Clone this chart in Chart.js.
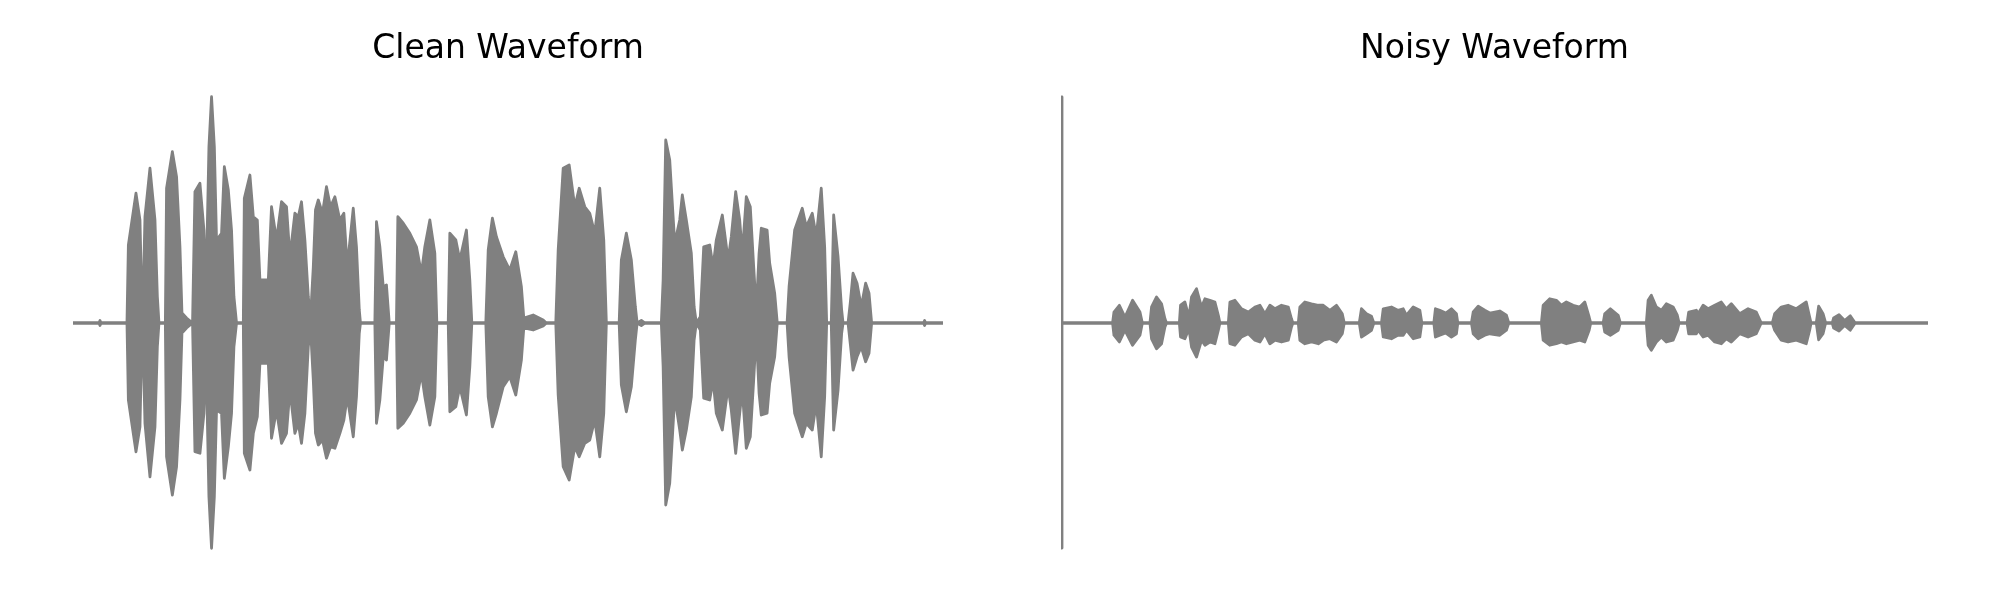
<!DOCTYPE html>
<html>
<head>
<meta charset="utf-8">
<script src="https://cdn.jsdelivr.net/npm/chart.js@4/dist/chart.umd.min.js"></script>
<style>
  body { margin: 0; background: #fff; }
  .panel { position: absolute; top: 0; width: 1000px; height: 600px; }
</style>
</head>
<body>
<div class="panel" style="left:0"><canvas id="clean" width="1000" height="600"></canvas></div>
<div class="panel" style="left:1000px"><canvas id="noisy" width="1000" height="600"></canvas></div>
<script>
// clean waveform envelope (time in s, upper / lower amplitude)
const cleanTime = [0, 0.13, 0.135, 0.14, 0.27, 0.277, 0.315, 0.335, 0.343, 0.352, 0.36, 0.385, 0.41, 0.422, 0.43, 0.462, 0.468, 0.497, 0.518, 0.535, 0.545, 0.568, 0.598, 0.61, 0.635, 0.655, 0.665, 0.68, 0.693, 0.707, 0.718, 0.743, 0.757, 0.777, 0.793, 0.805, 0.818, 0.852, 0.857, 0.885, 0.902, 0.922, 0.935, 0.977, 0.993, 1.018, 1.043, 1.068, 1.085, 1.11, 1.127, 1.143, 1.16, 1.177, 1.188, 1.202, 1.213, 1.227, 1.248, 1.268, 1.288, 1.31, 1.335, 1.355, 1.372, 1.402, 1.418, 1.432, 1.438, 1.51, 1.518, 1.535, 1.552, 1.568, 1.582, 1.618, 1.625, 1.652, 1.685, 1.718, 1.743, 1.76, 1.785, 1.81, 1.82, 1.877, 1.885, 1.915, 1.935, 1.968, 1.985, 1.995, 2.065, 2.077, 2.098, 2.118, 2.152, 2.185, 2.215, 2.243, 2.255, 2.302, 2.352, 2.368, 2.415, 2.427, 2.452, 2.482, 2.51, 2.532, 2.56, 2.585, 2.61, 2.635, 2.655, 2.668, 2.732, 2.743, 2.768, 2.793, 2.813, 2.822, 2.843, 2.86, 2.943, 2.952, 2.965, 2.985, 3.01, 3.035, 3.048, 3.068, 3.093, 3.107, 3.118, 3.138, 3.155, 3.185, 3.202, 3.218, 3.248, 3.277, 3.293, 3.315, 3.335, 3.348, 3.368, 3.388, 3.405, 3.418, 3.432, 3.443, 3.472, 3.485, 3.51, 3.523, 3.572, 3.582, 3.61, 3.648, 3.668, 3.698, 3.718, 3.743, 3.76, 3.77, 3.793, 3.805, 3.827, 3.845, 3.852, 3.877, 3.888, 3.902, 3.922, 3.943, 3.965, 3.982, 3.995, 4.255, 4.26, 4.265, 4.352];
const cleanHi = [0, 0, 0.01, 0, 0, 0.312, 0.519, 0.412, 0.132, 0.145, 0.425, 0.619, 0.412, 0.105, 0, 0, 0.539, 0.685, 0.585, 0.305, 0.04, 0.02, 0, 0.525, 0.559, 0.372, 0.119, 0.705, 0.905, 0.705, 0.332, 0.359, 0.625, 0.532, 0.372, 0.105, 0, 0, 0.499, 0.592, 0.425, 0.412, 0.172, 0.172, 0.465, 0.332, 0.485, 0.465, 0.265, 0.439, 0.425, 0.485, 0.332, 0.105, 0.02, 0.225, 0.452, 0.492, 0.439, 0.545, 0.465, 0.505, 0.412, 0.439, 0.225, 0.459, 0.305, 0.052, 0, 0, 0.405, 0.305, 0.145, 0.152, 0, 0, 0.425, 0.399, 0.359, 0.305, 0.199, 0.305, 0.412, 0.279, 0, 0, 0.359, 0.332, 0.252, 0.372, 0.172, 0, 0, 0.292, 0.419, 0.345, 0.265, 0.212, 0.285, 0.145, 0.02, 0.032, 0.012, 0, 0, 0.292, 0.619, 0.632, 0.465, 0.539, 0.465, 0.439, 0.359, 0.539, 0.332, 0, 0, 0.252, 0.359, 0.252, 0.065, 0, 0.01, 0, 0, 0.172, 0.732, 0.652, 0.319, 0.412, 0.512, 0.412, 0.279, 0.065, 0, 0.025, 0.305, 0.312, 0.225, 0.332, 0.432, 0.252, 0.345, 0.525, 0.412, 0.279, 0.505, 0.465, 0.225, 0.052, 0.279, 0.379, 0.372, 0.239, 0.119, 0, 0, 0.145, 0.372, 0.459, 0.385, 0.439, 0.345, 0.539, 0.305, 0, 0, 0.432, 0.265, 0.052, 0, 0, 0.079, 0.199, 0.159, 0.065, 0.159, 0.119, 0, 0, 0.01, 0, 0];
const cleanLo = [0, 0, -0.01, 0, 0, -0.308, -0.515, -0.415, -0.121, -0.135, -0.401, -0.615, -0.415, -0.095, 0, 0, -0.535, -0.688, -0.575, -0.308, -0.04, -0.02, 0, -0.515, -0.521, -0.361, -0.108, -0.695, -0.901, -0.695, -0.348, -0.361, -0.621, -0.495, -0.361, -0.095, 0, 0, -0.521, -0.588, -0.441, -0.375, -0.161, -0.161, -0.461, -0.348, -0.481, -0.441, -0.268, -0.441, -0.401, -0.481, -0.361, -0.095, -0.02, -0.228, -0.441, -0.488, -0.468, -0.541, -0.495, -0.501, -0.441, -0.388, -0.295, -0.455, -0.295, -0.041, 0, 0, -0.401, -0.308, -0.135, -0.148, 0, 0, -0.421, -0.401, -0.361, -0.308, -0.201, -0.295, -0.408, -0.295, 0, 0, -0.355, -0.335, -0.255, -0.368, -0.175, 0, 0, -0.295, -0.415, -0.361, -0.255, -0.215, -0.288, -0.148, -0.02, -0.028, -0.012, 0, 0, -0.288, -0.575, -0.628, -0.495, -0.535, -0.481, -0.468, -0.388, -0.535, -0.361, 0, 0, -0.248, -0.355, -0.255, -0.068, 0, -0.01, 0, 0, -0.175, -0.728, -0.641, -0.295, -0.428, -0.508, -0.428, -0.295, -0.068, 0, -0.028, -0.301, -0.308, -0.228, -0.361, -0.428, -0.255, -0.348, -0.521, -0.361, -0.268, -0.501, -0.455, -0.228, -0.041, -0.281, -0.368, -0.361, -0.241, -0.135, 0, 0, -0.135, -0.361, -0.455, -0.401, -0.428, -0.321, -0.535, -0.295, 0, 0, -0.428, -0.268, -0.041, 0, 0, -0.081, -0.188, -0.135, -0.095, -0.155, -0.121, 0, 0, -0.01, 0, 0];

// noisy waveform envelope
const noisyTime = [0, 0.005, 0.258, 0.265, 0.292, 0.32, 0.358, 0.395, 0.407, 0.445, 0.453, 0.478, 0.503, 0.52, 0.528, 0.592, 0.598, 0.62, 0.64, 0.653, 0.678, 0.703, 0.72, 0.745, 0.77, 0.787, 0.795, 0.837, 0.845, 0.87, 0.903, 0.937, 0.97, 0.995, 1.02, 1.045, 1.07, 1.103, 1.137, 1.153, 1.16, 1.187, 1.195, 1.22, 1.253, 1.287, 1.312, 1.345, 1.378, 1.407, 1.417, 1.492, 1.503, 1.528, 1.553, 1.565, 1.603, 1.612, 1.653, 1.685, 1.712, 1.728, 1.762, 1.795, 1.805, 1.865, 1.873, 1.895, 1.925, 1.953, 1.978, 1.985, 2.053, 2.062, 2.087, 2.12, 2.145, 2.195, 2.228, 2.24, 2.403, 2.412, 2.445, 2.478, 2.503, 2.528, 2.562, 2.595, 2.62, 2.642, 2.65, 2.712, 2.72, 2.748, 2.787, 2.798, 2.928, 2.937, 2.953, 2.978, 3.003, 3.028, 3.062, 3.083, 3.092, 3.132, 3.14, 3.178, 3.187, 3.212, 3.237, 3.27, 3.303, 3.328, 3.353, 3.395, 3.437, 3.478, 3.503, 3.558, 3.57, 3.603, 3.637, 3.678, 3.728, 3.745, 3.752, 3.778, 3.79, 3.812, 3.825, 3.858, 3.865, 3.892, 3.92, 3.948, 3.973, 4.337];
const noisyHi = [0.904, 0, 0, 0.044, 0.071, 0.024, 0.091, 0.044, 0, 0, 0.064, 0.104, 0.077, 0.017, 0, 0, 0.071, 0.084, 0.024, 0.104, 0.137, 0.064, 0.097, 0.091, 0.084, 0.031, 0, 0, 0.084, 0.091, 0.057, 0.044, 0.064, 0.071, 0.037, 0.071, 0.057, 0.071, 0.064, 0.017, 0, 0, 0.064, 0.084, 0.077, 0.071, 0.071, 0.051, 0.071, 0.037, 0, 0, 0.057, 0.037, 0.027, 0, 0, 0.057, 0.064, 0.051, 0.057, 0.031, 0.064, 0.051, 0, 0, 0.057, 0.051, 0.04, 0.057, 0.037, 0, 0, 0.044, 0.067, 0.051, 0.04, 0.048, 0.031, 0, 0, 0.071, 0.097, 0.091, 0.071, 0.084, 0.071, 0.064, 0.084, 0.024, 0, 0, 0.037, 0.057, 0.031, 0, 0, 0.091, 0.111, 0.064, 0.051, 0.077, 0.064, 0.031, 0, 0, 0.044, 0.051, 0.037, 0.071, 0.057, 0.071, 0.084, 0.057, 0.077, 0.037, 0.057, 0.044, 0, 0, 0.037, 0.064, 0.071, 0.057, 0.084, 0.024, 0, 0, 0.067, 0.037, 0, 0, 0.02, 0.033, 0.01, 0.029, 0, 0];
const noisyLo = [-0.9, 0, 0, -0.049, -0.076, -0.029, -0.089, -0.049, 0, 0, -0.063, -0.103, -0.083, -0.016, 0, 0, -0.056, -0.063, -0.023, -0.096, -0.136, -0.069, -0.089, -0.076, -0.083, -0.029, 0, 0, -0.083, -0.089, -0.056, -0.043, -0.069, -0.076, -0.043, -0.083, -0.069, -0.076, -0.069, -0.016, 0, 0, -0.069, -0.083, -0.076, -0.083, -0.069, -0.063, -0.076, -0.043, 0, 0, -0.056, -0.043, -0.029, 0, 0, -0.056, -0.063, -0.049, -0.049, -0.029, -0.063, -0.056, 0, 0, -0.056, -0.049, -0.04, -0.056, -0.043, 0, 0, -0.043, -0.063, -0.049, -0.043, -0.049, -0.029, 0, 0, -0.069, -0.089, -0.083, -0.076, -0.083, -0.076, -0.069, -0.076, -0.029, 0, 0, -0.036, -0.049, -0.029, 0, 0, -0.089, -0.109, -0.076, -0.056, -0.076, -0.069, -0.029, 0, 0, -0.043, -0.043, -0.029, -0.056, -0.049, -0.076, -0.083, -0.063, -0.076, -0.043, -0.056, -0.043, 0, 0, -0.029, -0.069, -0.076, -0.069, -0.083, -0.029, 0, 0, -0.067, -0.043, 0, 0, -0.02, -0.032, -0.01, -0.029, 0, 0];

const waveColor = "#808080";

function makeWave(canvasId, title, time, hi, lo, padLeft, padRight) {
  const pts = (vals) => time.map((t, i) => ({ x: t, y: vals[i] }));
  const lineStyle = {
    borderColor: waveColor,
    backgroundColor: waveColor,
    borderWidth: 2.8,
    pointRadius: 0,
    tension: 0,
    borderCapStyle: "round",
    borderJoinStyle: "round",
  };
  return new Chart(document.getElementById(canvasId), {
    type: "line",
    data: {
      datasets: [
        { ...lineStyle, data: pts(hi), fill: "+1" },
        { ...lineStyle, data: pts(lo), fill: false },
      ],
    },
    options: {
      responsive: false,
      animation: false,
      devicePixelRatio: 1,
      layout: { padding: { left: padLeft, right: padRight, top: 0, bottom: 27 } },
      plugins: {
        legend: { display: false },
        tooltip: { enabled: false },
        title: {
          display: true,
          text: title,
          color: "#000",
          font: { family: "DejaVu Sans", size: 33, weight: "normal", lineHeight: 1.2 },
          padding: { top: 30, bottom: 3.4 },
        },
      },
      scales: {
        x: { type: "linear", display: false, min: 0, max: time[time.length - 1] },
        y: { display: false, min: -1, max: 1 },
      },
    },
  });
}

makeWave("clean", "Clean Waveform", cleanTime, cleanHi, cleanLo, 73, 57);
makeWave("noisy", "Noisy Waveform", noisyTime, noisyHi, noisyLo, 61, 72);
</script>
</body>
</html>
